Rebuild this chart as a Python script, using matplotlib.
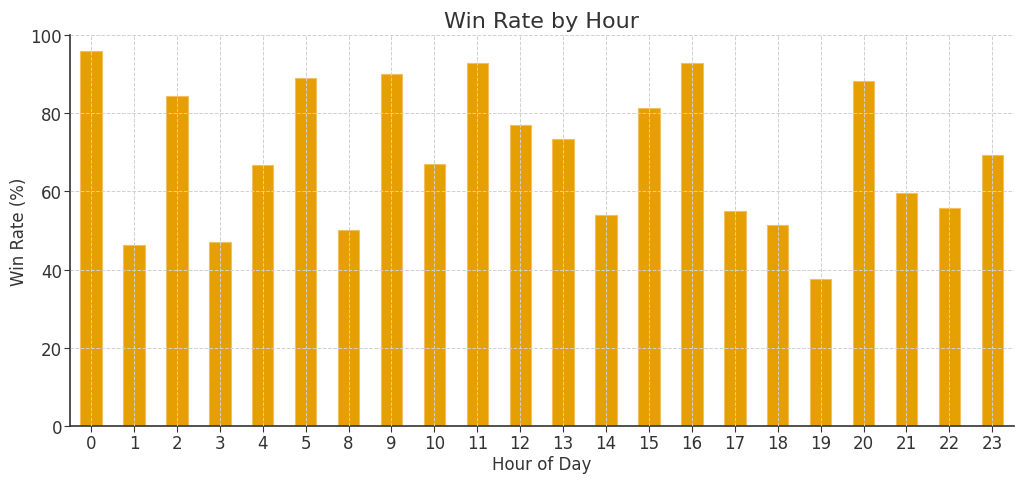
import matplotlib
matplotlib.use("Agg")
import matplotlib.pyplot as plt
import numpy as np

hours = ["0", "1", "2", "3", "4", "5", "8", "9", "10", "11", "12", "13",
         "14", "15", "16", "17", "18", "19", "20", "21", "22", "23"]
win_rate = [95.9, 46.3, 84.4, 47.0, 66.8, 89.0, 50.1, 90.1, 67.1, 92.8, 77.0, 73.4,
            54.0, 81.3, 92.9, 55.1, 51.4, 37.6, 88.2, 59.7, 55.8, 69.3]

BAR_COLOR = "#E69F00"
TEXT = "#333333"

fig = plt.figure(figsize=(10.24, 4.81), dpi=100)
ax = fig.add_axes([0.068, 0.112, 0.922, 0.813])

x = np.arange(len(hours))
ax.bar(x, win_rate, width=0.5, color=BAR_COLOR, edgecolor="#f0c060", linewidth=0.8, zorder=2)

ax.set_xlim(-0.5, len(hours) - 0.5)
ax.set_ylim(0, 100)
ax.set_xticks(x)
ax.set_xticklabels(hours)
ax.set_yticks([0, 20, 40, 60, 80, 100])

# grid drawn over the bars, faint
ax.grid(True, linestyle="--", color="#d0d0d0", linewidth=0.7, zorder=3)
ax.set_axisbelow(False)

for s in ["top", "right"]:
    ax.spines[s].set_visible(False)
for s in ["left", "bottom"]:
    ax.spines[s].set_color(TEXT)
    ax.spines[s].set_linewidth(1.2)

ax.tick_params(colors=TEXT, labelsize=12, length=4, pad=1.5)
ax.set_title("Win Rate by Hour", fontsize=16, color=TEXT)
ax.set_xlabel("Hour of Day", fontsize=12, color=TEXT, labelpad=2)
ax.set_ylabel("Win Rate (%)", fontsize=12, color=TEXT, labelpad=2)

fig.savefig("out.png", dpi=100)
